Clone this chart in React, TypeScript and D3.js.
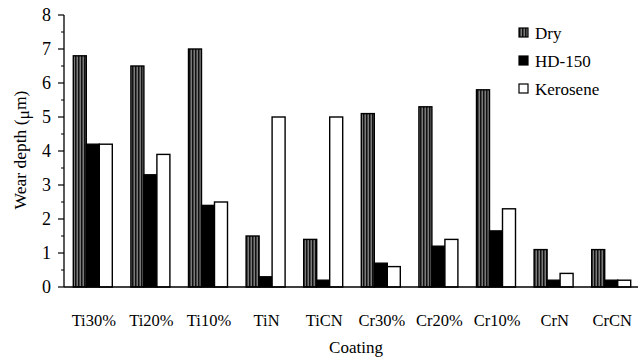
import React from "react";
import * as d3 from "d3";

const categories = ["Ti30%", "Ti20%", "Ti10%", "TiN", "TiCN", "Cr30%", "Cr20%", "Cr10%", "CrN", "CrCN"];
const seriesNames = ["Dry", "HD-150", "Kerosene"];
const dryValues = [6.8, 6.5, 7.0, 1.5, 1.4, 5.1, 5.3, 5.8, 1.1, 1.1];
const hdValues = [4.2, 3.3, 2.4, 0.3, 0.2, 0.7, 1.2, 1.65, 0.2, 0.2];
const keroseneValues = [4.2, 3.9, 2.5, 5.0, 5.0, 0.6, 1.4, 2.3, 0.4, 0.2];
const yTicks = [0, 1, 2, 3, 4, 5, 6, 7, 8];

const W = 639;
const H = 363;
const font = "Liberation Serif";

export default function App() {
  const x0 = 64;
  const x1 = 640;
  const yTop = 15;
  const yBot = 287;
  const x = d3.scaleBand<string>().domain(categories).range([x0, x1]).padding(0);
  const groupW = 39;
  const inner = d3.scaleBand<string>().domain(seriesNames).range([0, groupW]).padding(0);
  const y = d3.scaleLinear().domain([0, 8]).range([yBot, yTop]);
  const seriesData = [dryValues, hdValues, keroseneValues];
  const fills = ["url(#dryPat)", "#000", "#fff"];
  const minor = d3.range(0.5, 8, 1);
  const ts = { fontFamily: font };

  return (
    <div style={{ position: "absolute", left: 0, top: 0 }}>
      <svg width={W} height={H} style={{ display: "block", background: "#fff", fontFamily: font }}>
        <defs>
          <pattern id="dryPat" patternUnits="userSpaceOnUse" width={3} height={4}>
            <rect width={3} height={4} fill="#7a7a7a" />
            <rect x={0} width={1.5} height={4} fill="#111" />
          </pattern>
        </defs>
        {categories.map((c, i) => {
          const gx = (x(c) as number) + (x.bandwidth() - groupW) / 2;
          return seriesNames.map((s, j) => {
            const v = seriesData[j][i];
            return (
              <rect
                key={c + s}
                x={gx + (inner(s) as number)}
                y={y(v)}
                width={inner.bandwidth()}
                height={yBot - y(v)}
                fill={fills[j]}
                stroke="#000"
                strokeWidth={1.4}
              />
            );
          });
        })}
        <line x1={x0} x2={x0} y1={yTop} y2={yBot} stroke="#000" strokeWidth={1.3} />
        {yTicks.map((t) => (
          <g key={t}>
            <line x1={x0 - 6} x2={x0} y1={y(t)} y2={y(t)} stroke="#000" strokeWidth={1.2} />
            <text x={51} y={y(t)} dy="0.35em" textAnchor="end" fontSize={18} style={ts}>
              {t}
            </text>
          </g>
        ))}
        {minor.map((t) => (
          <line key={"m" + t} x1={x0 - 3} x2={x0} y1={y(t)} y2={y(t)} stroke="#000" strokeWidth={1} />
        ))}
        <line x1={x0} x2={638} y1={yBot} y2={yBot} stroke="#000" strokeWidth={1.3} />
        {categories.map((c) => (
          <text
            key={"l" + c}
            x={(x(c) as number) + x.bandwidth() / 2 + 1}
            y={326}
            textAnchor="middle"
            fontSize={16.5}
            style={ts}
          >
            {c}
          </text>
        ))}
        <text x={356} y={353} textAnchor="middle" fontSize={17} style={ts}>
          Coating
        </text>
        <text transform="translate(26,150) rotate(-90)" textAnchor="middle" fontSize={17.5} style={ts}>
          Wear depth (<tspan dy="3">μ</tspan>
          <tspan dy="-3">m)</tspan>
        </text>
        {seriesNames.map((s, j) => {
          const ly = 33 + j * 28;
          return (
            <g key={"lg" + s}>
              <rect x={519} y={ly - 5} width={9} height={9} fill={fills[j]} stroke="#000" strokeWidth={1.2} />
              <text x={535} y={ly} dy="0.35em" fontSize={17} style={ts}>
                {s}
              </text>
            </g>
          );
        })}
      </svg>
    </div>
  );
}
